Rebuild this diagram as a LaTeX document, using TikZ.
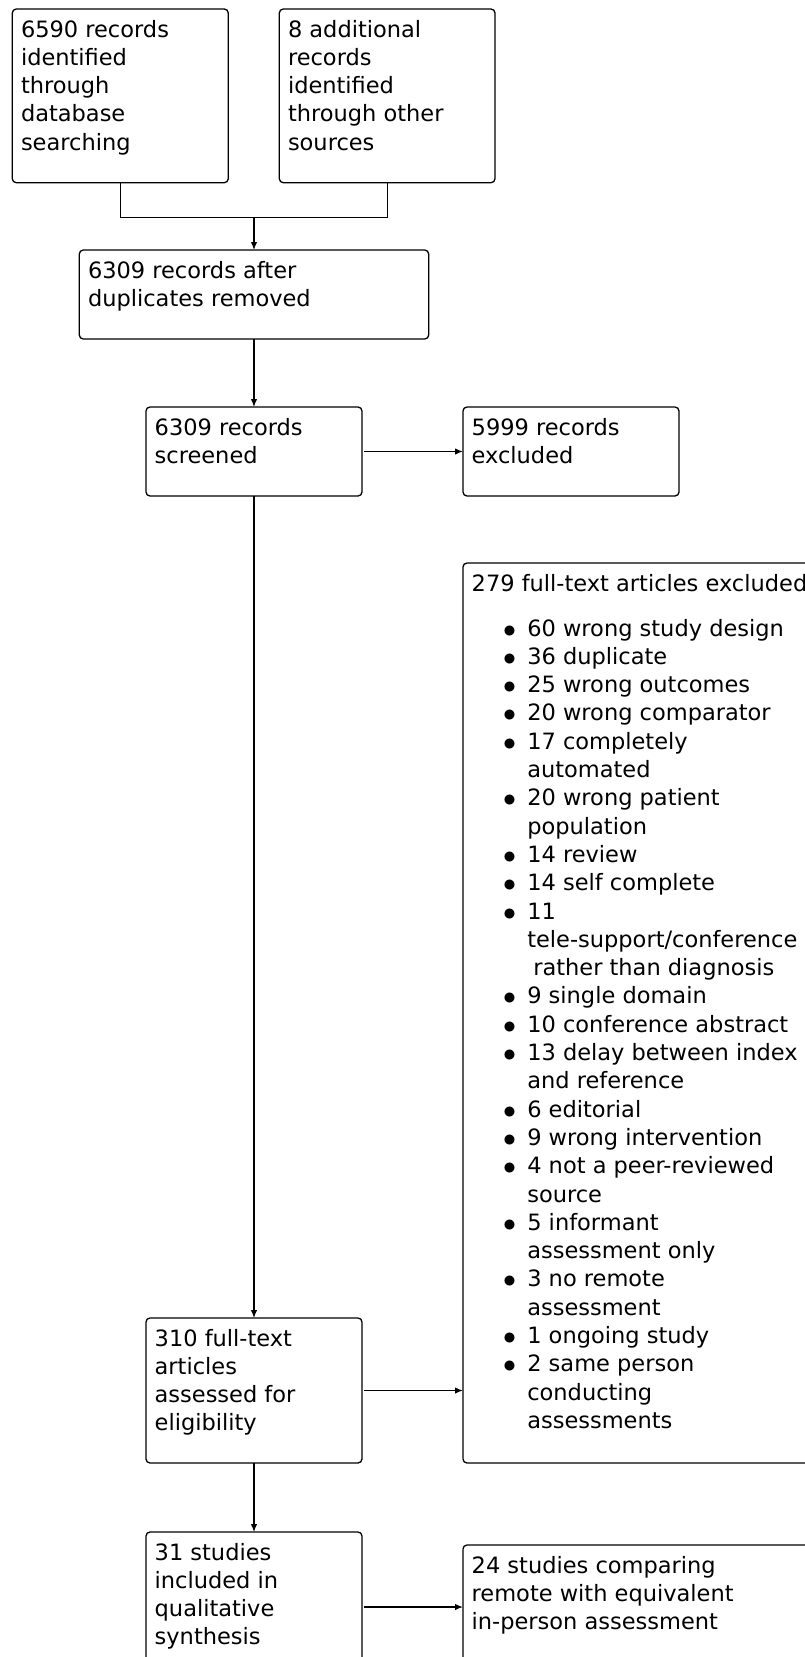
\documentclass[tikz,border=0pt]{standalone}
\usepackage{graphicx}
\usepackage{fontspec}
\setmainfont{DejaVu Sans}
\usetikzlibrary{arrows.meta}
\newcommand\fs{\fontsize{22.5}{28.3}\selectfont}
\newcommand\bx[3]{\parbox[c][\dimexpr#2pt-16.4pt\relax][t]{\dimexpr#1pt-17.4pt\relax}{\fs\strut#3}}
\newcommand\itm{\makebox[55.6pt][l]{\hspace{31.5pt}\smash{\raisebox{-1pt}{\scalebox{1.25}{$\bullet$}}}}}
\newcommand\cnt{\hspace*{55.6pt}}
\begin{document}
\begin{tikzpicture}[x=1pt,y=-1pt,
  box/.style={draw,line width=1.3pt,rounded corners=4pt,anchor=north west,inner xsep=8.7pt,inner ysep=8.2pt,outer sep=0pt},
  arr/.style={line width=1.3pt,-{Latex[length=8pt,width=6.5pt]}},
  ln/.style={line width=1.3pt}]
\useasboundingbox (0,0) rectangle (805,1657);
\clip (0,0) rectangle (805,1657);
\fill[white] (0,0) rectangle (805,1657);
\node[box] (b1) at (12.3,9) {\bx{216}{173.7}{6590 records\\identified\\through\\database\\searching}};
\node[box] (b2) at (279.3,9) {\bx{215.7}{173.7}{8 additional\\records\\identified\\through other\\sources}};
\node[box] (b3) at (79.3,250) {\bx{349.4}{89}{6309 records after\\duplicates removed}};
\node[box] (b4) at (146,407) {\bx{216}{89}{6309 records\\screened}};
\node[box] (b5) at (463,407) {\bx{216}{89}{5999 records\\excluded}};
\node[box] (b6) at (146,1318) {\bx{216}{145}{310 full-text\\articles\\assessed for\\eligibility}};
\node[box] (b7) at (463,563) {\bx{380}{900}{279 full-text articles excluded\\[16.7pt]
\itm 60 wrong study design\\
\itm 36 duplicate\\
\itm 25 wrong outcomes\\
\itm 20 wrong comparator\\
\itm 17 completely\\
\cnt automated\\
\itm 20 wrong patient\\
\cnt population\\
\itm 14 review\\
\itm 14 self complete\\
\itm 11\\
\cnt tele-support/conference\\
\hspace*{61.6pt}rather than diagnosis\\
\itm 9 single domain\\
\itm 10 conference abstract\\
\itm 13 delay between index\\
\cnt and reference\\
\itm 6 editorial\\
\itm 9 wrong intervention\\
\itm 4 not a peer-reviewed\\
\cnt source\\
\itm 5 informant\\
\cnt assessment only\\
\itm 3 no remote\\
\cnt assessment\\
\itm 1 ongoing study\\
\itm 2 same person\\
\cnt conducting\\
\cnt assessments}};
\node[box] (b8) at (146,1532) {\bx{216}{150}{31 studies\\included in\\qualitative\\synthesis}};
\node[box] (b9) at (463,1545) {\bx{380}{125}{24 studies comparing\\remote with equivalent\\in-person assessment}};
\coordinate (j) at (b4.north |- 0,217.3);
\draw[ln] (b1.south) |- (j) -| (b2.south);
\draw[arr] (j) -- (j |- b3.north);
\draw[arr] (b3.south -| b4.north) -- (b4.north);
\draw[arr,shorten <=2pt] (b4.east) -- (b4.east -| b5.west);
\draw[arr] (b4.south) -- (b6.north);
\draw[arr,shorten <=2pt] (b6.east) -- (b6.east -| b7.west);
\draw[arr] (b6.south) -- (b8.north);
\draw[arr,shorten <=2pt] (b8.east) -- (b8.east -| b9.west);
\end{tikzpicture}
\end{document}
